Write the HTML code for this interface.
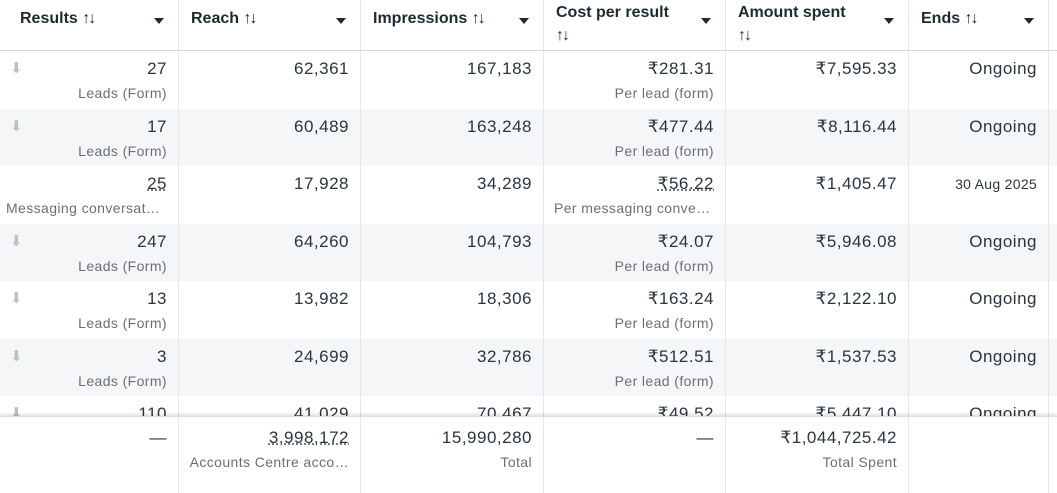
<!DOCTYPE html>
<html><head><meta charset="utf-8">
<style>
*{box-sizing:border-box;margin:0;padding:0}
body{width:1057px;height:493px;overflow:hidden;background:#fff;font-family:"Liberation Sans","DejaVu Sans",sans-serif;color:#1c2b33;position:relative}
.hdr{position:absolute;top:0;height:51px;border-right:1px solid #e4e6eb;border-bottom:1px solid #d4d6da;font-weight:bold;font-size:16px;padding:5px 10px 0 12px;line-height:20px}
.hdr .car{position:absolute;right:14px;top:18px;width:0;height:0;border-left:5px solid transparent;border-right:5px solid transparent;border-top:6px solid #1c2b33}
.sort{font-weight:normal;font-size:16px;color:#1c2b33;letter-spacing:-2px}
.row{position:absolute;left:0;width:1057px;height:58px}
.cell{position:absolute;top:0;height:100%;border-right:1px solid #e4e6eb;text-align:right;padding:8px 11px 0 0}
.v{font-size:17px;line-height:20px;letter-spacing:0.5px;color:#2a3540}
.s{font-size:14px;color:#6b6f74;line-height:20px;margin-top:4px;white-space:nowrap;overflow:hidden;text-overflow:ellipsis;letter-spacing:0.4px}
.dot{text-decoration:underline dotted #65676b}
.dl{position:absolute;left:10px;top:8px;color:#bcc0c4;font-size:15px}
#foot{position:absolute;left:0;top:416px;width:1057px;height:77px;background:#fff;box-shadow:0 -2px 3px rgba(0,0,0,0.12);border-top:1px solid #dcdde0}
</style></head><body>
<div id="hdrs"></div>
<div id="rows"></div>
<div id="foot"></div>
<script>
const colX=[0,179,361,544,726,909,1049];
const headers=["Results","Reach","Impressions","Cost per result","Amount spent","Ends"];
const results=["27","17","25","247","13","3","110"];
const resultTypes=["Leads (Form)","Leads (Form)","Messaging conversat…","Leads (Form)","Leads (Form)","Leads (Form)",""];
const reach=["62,361","60,489","17,928","64,260","13,982","24,699","41,029"];
const impressions=["167,183","163,248","34,289","104,793","18,306","32,786","70,467"];
const cost=["₹281.31","₹477.44","₹56.22","₹24.07","₹163.24","₹512.51","₹49.52"];
const costTypes=["Per lead (form)","Per lead (form)","Per messaging conve…","Per lead (form)","Per lead (form)","Per lead (form)",""];
const spent=["₹7,595.33","₹8,116.44","₹1,405.47","₹5,946.08","₹2,122.10","₹1,537.53","₹5,447.10"];
const ends=["Ongoing","Ongoing","30 Aug 2025","Ongoing","Ongoing","Ongoing","Ongoing"];
const H=document.getElementById('hdrs');
headers.forEach((h,i)=>{
  const d=document.createElement('div');d.className='hdr';
  
  
  d.style.left=colX[i]+'px';d.style.width=(colX[i+1]-colX[i])+'px';
  const two=(i==3||i==4);
  d.style.paddingTop=two?'1px':'9px';
  if(two)d.style.lineHeight='23px';
  d.innerHTML=h+(two?'<br>':' ')+'<span class="sort">↑↓</span><span class="car"></span>';
  if(i==0)d.style.paddingLeft='20px';
  H.appendChild(d);
});
const last=document.createElement('div');last.className='hdr';last.style.left='1049px';last.style.width='8px';last.style.borderRight='none';


H.appendChild(last);
const R=document.getElementById('rows');
function cell(parent,i,v,s,dotted,small){
  const c=document.createElement('div');c.className='cell';
  
  
  c.style.left=colX[i]+'px';c.style.width=(colX[i+1]-colX[i])+'px';
  c.innerHTML='<div class="v'+(dotted?' dot':'')+'"'+(small?' style="font-size:14px;letter-spacing:0.3px"':'')+'>'+v+'</div>'+(s?'<div class="s">'+s+'</div>':'');
  if(i==0 && s && s.indexOf('Messaging')==0){c.querySelector('.s').style.textAlign='left';c.style.paddingLeft='6px';}
  if(i==3 && s && s.indexOf('Per messaging')==0){c.querySelector('.s').style.textAlign='left';c.style.paddingLeft='10px';}
  parent.appendChild(c);return c;
}
results.forEach((r,k)=>{
  const row=document.createElement('div');row.className='row';
  
  
  row.style.top=(51+k*57.5)+'px';
  row.style.background=k%2?'#f5f6f7':'#fff';
  const msg=resultTypes[k].indexOf('Messaging')==0;
  const c0=cell(row,0,r,resultTypes[k],msg);
  if(!msg){const dl=document.createElement('span');dl.className='dl';dl.textContent='⬇';
    
    
    c0.appendChild(dl);}
  cell(row,1,reach[k]);cell(row,2,impressions[k]);
  cell(row,3,cost[k],costTypes[k],msg);cell(row,4,spent[k]);
  cell(row,5,ends[k],'',false,ends[k]!='Ongoing');
  R.appendChild(row);
});
const F=document.getElementById('foot');
const footVals=[["—",""],["3,998,172","Accounts Centre acco…"],["15,990,280","Total"],["—",""],["₹1,044,725.42","Total Spent"],["",""]];
footVals.forEach((f,i)=>{const c=cell(F,i,f[0],f[1],i==1);c.style.paddingTop='11px';});
</script>
</body></html>
